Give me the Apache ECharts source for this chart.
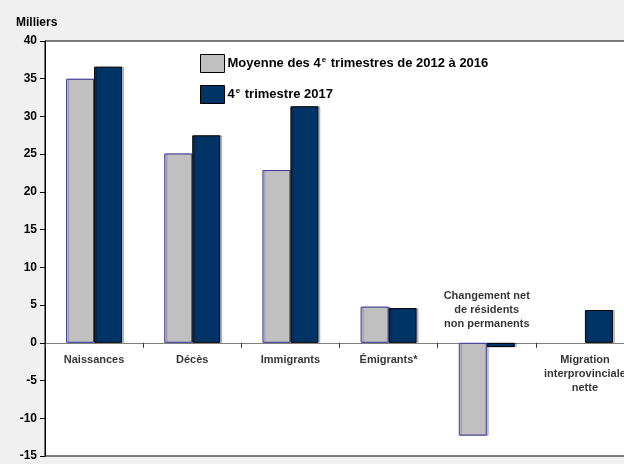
<!DOCTYPE html>
<html>
<head>
<meta charset="utf-8">
<script src="https://cdn.jsdelivr.net/npm/echarts@6/dist/echarts.min.js"></script>
<style>
  html, body { margin: 0; padding: 0; background: #f0f0f0; }
  #chart { width: 624px; height: 464px; }
</style>
</head>
<body>
<div id="chart"></div>
<script>
// Composantes de l'accroissement démographique (en milliers)
const categories = [
  'Naissances',
  'Décès',
  'Immigrants',
  'Émigrants*',
  'Changement net\nde résidents\nnon permanents',
  'Migration\ninterprovinciale\nnette'
];
// '-' : aucune barre affichée
const moyenne2012a2016 = [35.0, 25.1, 22.9, 4.8, -12.3, '-'];
const trimestre2017 = [36.6, 27.5, 31.35, 4.6, -0.57, 4.35];
const seriesNames = ['Moyenne des 4e trimestres de 2012 à 2016', '4e trimestre 2017'];
const yTicks = { min: -15, max: 40, step: 5 };

// Category whose label sits above the zero line
const aboveIndex = 4;

const FONT = '"Liberation Sans", Arial, sans-serif';

const chart = echarts.init(document.getElementById('chart'));

function legendLabel(name) {
  // render "4e" with a superscript e
  const parts = name.split('4e');
  return '{a|' + parts[0] + '4}{sup|e}{a|' + parts[1] + '}';
}

function richLines(text) {
  return '{b|' + text.split('\n').join('}\n{b|') + '}';
}

const labelRich = {
  b: { fontFamily: FONT, fontSize: 11, fontWeight: 'bold', color: '#000', lineHeight: 14, align: 'center' }
};

// category names anchored at the zero line (below, except one above)
const belowLabels = categories.map((c, i) => (i === aboveIndex ? null : [c, 0])).filter(Boolean);
const aboveLabels = [[categories[aboveIndex], 0]];

chart.setOption({
  backgroundColor: '#f0f0f0',
  animation: false,
  textStyle: { fontFamily: FONT },
  title: {
    text: 'Milliers',
    left: 11,
    top: 12,
    textStyle: { fontFamily: FONT, fontSize: 12, fontWeight: 'bold', color: '#000' }
  },
  legend: {
    data: seriesNames,
    orient: 'vertical',
    left: 195,
    top: 49,
    itemWidth: 24,
    itemHeight: 18,
    itemGap: 12,
    icon: 'rect',
    itemStyle: { borderColor: '#000', borderWidth: 1 },
    formatter: legendLabel,
    textStyle: {
      fontFamily: FONT,
      padding: [0, 0, 0, -2],
      rich: {
        a: { fontFamily: FONT, fontSize: 13, fontWeight: 'bold', color: '#000', lineHeight: 16 },
        sup: { fontFamily: FONT, fontSize: 8, fontWeight: 'bold', color: '#000', verticalAlign: 'top', lineHeight: 16, padding: [0, 1, 6, 1] }
      }
    }
  },
  grid: {
    left: 45,
    top: 41,
    width: 589,
    height: 415,
    outerBoundsMode: 'none',
    containLabel: false,
    show: true,
    backgroundColor: '#ffffff',
    borderColor: '#000',
    borderWidth: 1
  },
  xAxis: {
    type: 'category',
    data: categories,
    axisLine: { onZero: true, lineStyle: { color: '#808080', width: 1 } },
    axisTick: { show: true, interval: 0, length: 5, lineStyle: { color: '#333' } },
    axisLabel: { show: false, interval: 0 }
  },
  yAxis: {
    type: 'value',
    min: yTicks.min,
    max: yTicks.max,
    interval: yTicks.step,
    axisLine: { show: true, lineStyle: { color: '#000', width: 1 } },
    axisTick: { show: true, length: 5, lineStyle: { color: '#000' } },
    splitLine: { show: false },
    axisLabel: {
      margin: 8,
      fontFamily: FONT,
      fontSize: 12,
      fontWeight: 'bold',
      color: '#000'
    }
  },
  series: [
    {
      name: seriesNames[0],
      type: 'bar',
      data: moyenne2012a2016,
      barWidth: 28,
      barGap: '0%',
      itemStyle: {
        color: '#c0c0c0',
        borderColor: '#3a3aa0',
        borderWidth: 1,
        shadowColor: 'rgba(0,0,0,0.22)',
        shadowOffsetX: 2,
        shadowBlur: 0
      }
    },
    {
      name: seriesNames[1],
      type: 'bar',
      data: trimestre2017,
      barWidth: 28,
      barGap: '0%',
      itemStyle: {
        color: '#003366',
        borderColor: '#000',
        borderWidth: 1,
        shadowColor: 'rgba(0,0,0,0.22)',
        shadowOffsetX: 2,
        shadowBlur: 0
      }
    },
    {
      name: 'etiquettes',
      type: 'scatter',
      symbolSize: 0,
      silent: true,
      z: 5,
      data: belowLabels,
      label: {
        show: true,
        position: 'bottom',
        distance: 10,
        formatter: (p) => richLines(p.data[0]),
        rich: labelRich
      }
    },
    {
      name: 'etiquette-haut',
      type: 'scatter',
      symbolSize: 0,
      silent: true,
      z: 5,
      data: aboveLabels,
      label: {
        show: true,
        position: 'top',
        distance: 12,
        formatter: (p) => richLines(p.data[0]),
        rich: labelRich
      }
    }
  ]
});
</script>
</body>
</html>
